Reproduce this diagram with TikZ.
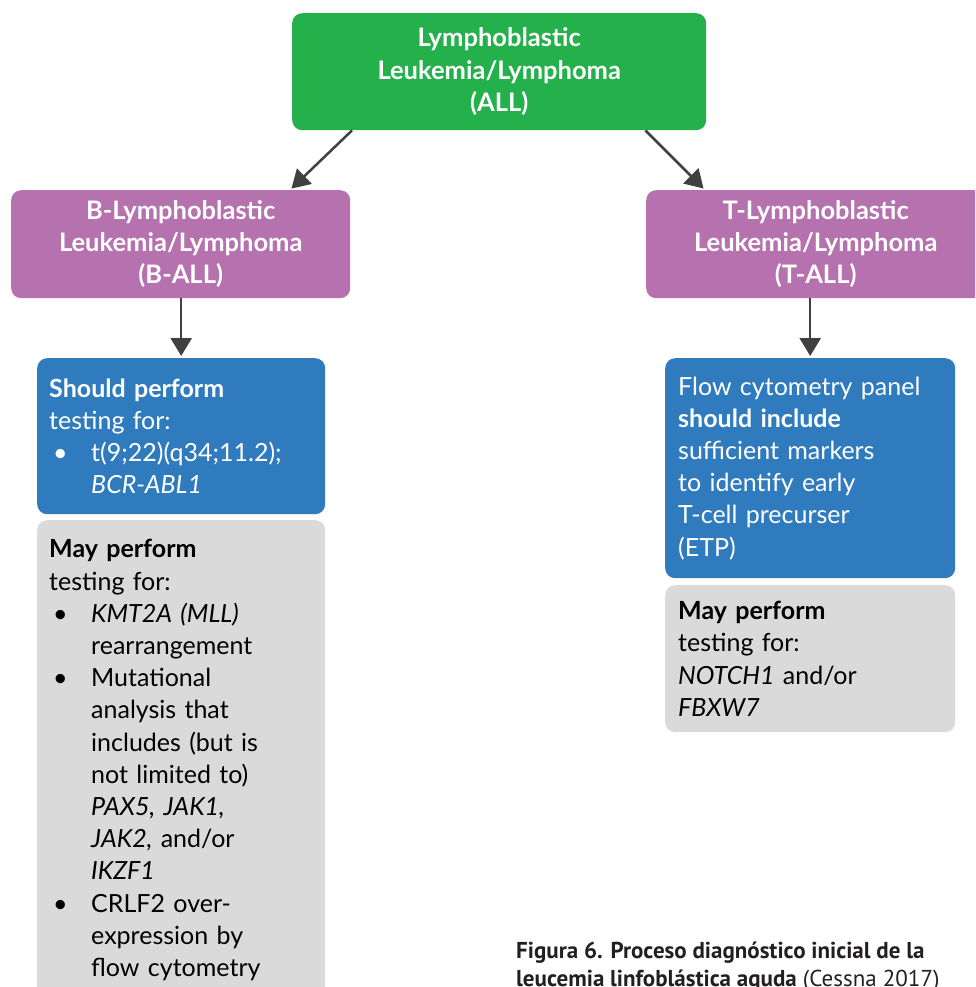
\documentclass[tikz,border=0pt]{standalone}
\usepackage{fontspec}
\setmainfont{Lato}
\newfontfamily\capfont{PT Sans}
\usepackage{tikz}
\usetikzlibrary{arrows.meta, positioning}
\usepackage{xcolor}

\definecolor{allgreen}{RGB}{36,177,76}
\definecolor{allpurple}{RGB}{181,114,174}
\definecolor{allblue}{RGB}{47,123,190}
\definecolor{allgray}{RGB}{218,218,218}
\definecolor{arrgray}{RGB}{64,64,64}
\definecolor{capgray}{RGB}{35,31,32}

\newcommand{\bitem}{\makebox[42pt][l]{\hspace{4pt}\textbullet}}
\newcommand{\bcont}{\hspace*{42pt}}

\begin{document}
\begin{tikzpicture}[x=1pt, y=-1pt,
    box/.style={rounded corners=10pt, inner ysep=0pt, anchor=north west,
      font=\fontsize{25}{32.2}\selectfont},
    head/.style={box, fill=#1, text=white, align=center, inner xsep=0pt,
      font=\bfseries\fontsize{25.5}{32.2}\selectfont},
    list/.style={box, fill=#1, align=left, inner xsep=12pt, text width=264pt,
      minimum width=288pt},
    arr/.style={arrgray, line width=2.5pt, -{Triangle[width=21pt,length=18pt]},
      shorten >=2pt}]
  \clip (0,0) rectangle (975,987);

  \node[head=allgreen, minimum width=414pt, minimum height=117pt] (root) at (292,13)
    {Lymphoblastic\\Leukemia/Lymphoma\\(ALL)};

  \node[head=allpurple, minimum width=339pt, minimum height=108pt] (ball) at (11,190)
    {B-Lymphoblastic\\Leukemia/Lymphoma\\(B-ALL)};
  \node[head=allpurple, minimum width=339pt, minimum height=108pt] (tall) at (646,190)
    {T-Lymphoblastic\\Leukemia/Lymphoma\\(T-ALL)};

  % B-ALL branch
  \node[list=allblue, text=white, minimum height=156pt] (bshould) at (37,358)
    {\textbf{Should perform}\\testing for:\\
     \bitem t(9;22)(q34;11.2);\\\bcont\textit{BCR-ABL1}};
  \node[list=allgray, text=black, minimum height=480pt] (bmay) at (37,520)
    {\textbf{May perform}\\testing for:\\
     \bitem\textit{KMT2A (MLL)}\\\bcont rearrangement\\
     \bitem Mutational\\\bcont analysis that\\\bcont includes (but is\\
     \bcont not limited to)\\\bcont\textit{PAX5, JAK1,}\\
     \bcont\textit{JAK2,} and/or\\\bcont\textit{IKZF1}\\
     \bitem CRLF2 over-\\\bcont expression by\\\bcont flow cytometry};

  % T-ALL branch
  \node[list=allblue, text=white, inner xsep=13pt, minimum height=220pt] (tshould) at (665,358)
    {Flow cytometry panel\\\textbf{should include}\\sufficient markers\\
     to identify early\\T-cell precurser\\(ETP)};
  \node[list=allgray, text=black, inner xsep=13pt, minimum height=147pt] (tmay) at (665,585)
    {\textbf{May perform}\\testing for:\\\textit{NOTCH1} and/or\\\textit{FBXW7}};

  \draw[arr] ([xshift=60pt]root.south west) -- ([xshift=279pt]ball.north west);
  \draw[arr] ([xshift=-61pt]root.south east) -- ([xshift=59pt]tall.north west);
  \draw[arr] (ball.south -| bshould.north) -- (bshould.north);
  \draw[arr] (tall.south -| tshould.north) -- (tshould.north);

  \node[anchor=north west, align=left, inner sep=0pt, text=capgray,
    font=\capfont\fontsize{23}{28}\selectfont] (cap) at (516,942)
    {\textbf{Figura 6. Proceso diagnóstico inicial de la}\\
     \textbf{leucemia linfoblástica aguda} (Cessna 2017)};
\end{tikzpicture}
\end{document}
